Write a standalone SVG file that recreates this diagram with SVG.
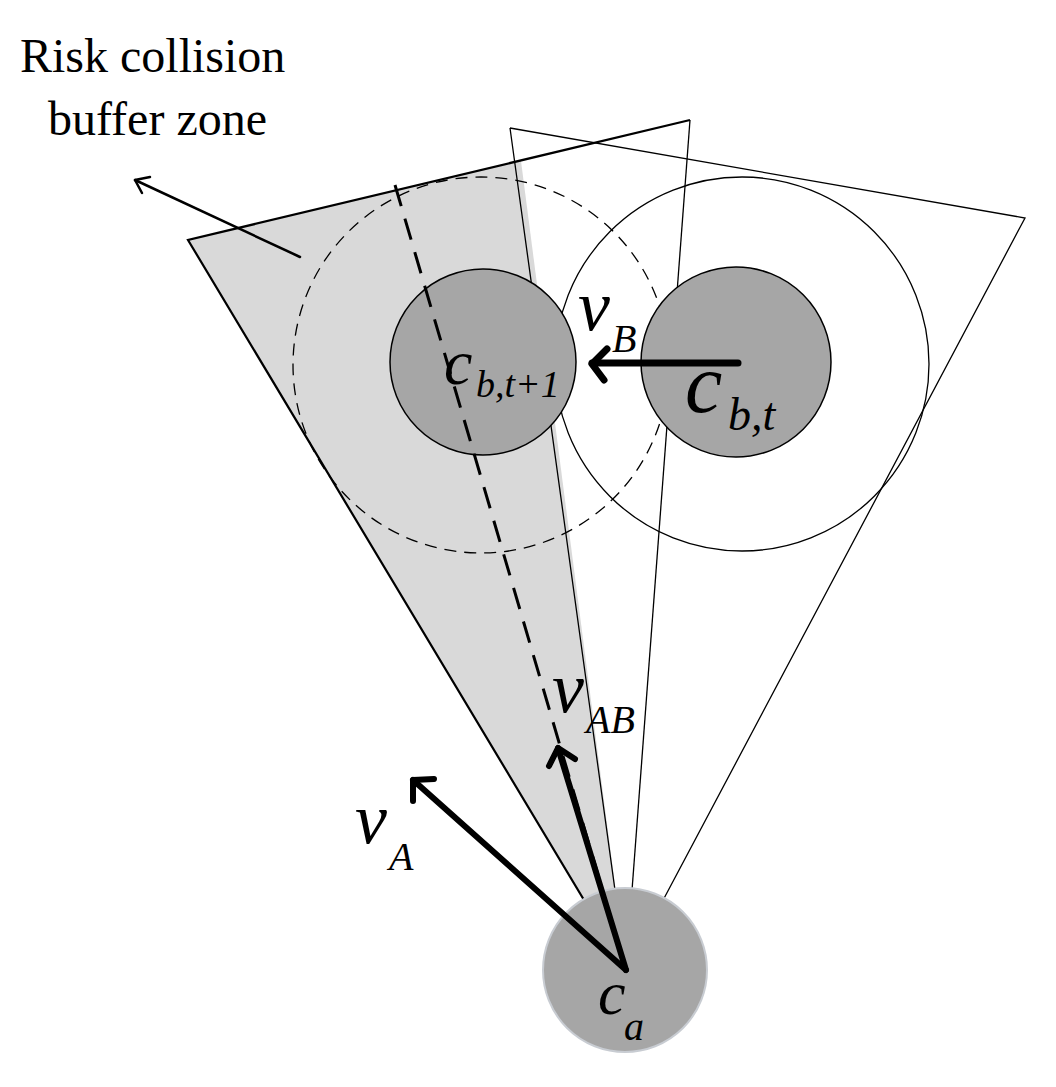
<svg xmlns="http://www.w3.org/2000/svg" width="1056" height="1087" viewBox="0 0 1056 1087">
<style>
.t{font-family:"Liberation Serif",serif;fill:#000}
.i{font-family:"Liberation Serif",serif;font-style:italic;fill:#000}
.ln{fill:none;stroke:#000;stroke-width:1.3}
.ar{fill:none;stroke:#000;stroke-linecap:round;stroke-linejoin:round}
</style>
<rect width="1056" height="1087" fill="#fff"/>
<g id="zones">
<polygon points="188,240 521,161 626,970" fill="#d9d9d9"/>
<polyline class="ln" points="510,128 1025,218 626,970 510,128"/>
<polyline class="ln" points="690,120 626,970"/>
<polyline fill="none" stroke="#000" stroke-width="2.2" points="626,970 188,240 690,120"/>
<circle cx="481" cy="365" r="188" fill="none" stroke="#000" stroke-width="1.3" stroke-dasharray="12,8"/>
<circle cx="742" cy="364" r="187" class="ln"/>
</g>
<g id="node-cbt1"><circle cx="483" cy="362" r="93" fill="#a6a6a6" stroke="#000" stroke-width="1.5"/></g>
<g id="node-cbt"><circle cx="736" cy="362" r="95" fill="#a6a6a6" stroke="#000" stroke-width="1.5"/></g>
<g id="node-ca"><circle cx="625" cy="970" r="82" fill="#a6a6a6" stroke="#c8ccd2" stroke-width="2"/></g>
<g id="connectors">
<line x1="395" y1="185" x2="626" y2="970" stroke="#000" stroke-width="3" stroke-dasharray="22,13"/>
<g class="ar" stroke-width="7"><path d="M738,363 H592"/><path d="M607,349 L592,364 L604,380"/></g>
<g class="ar" stroke-width="6"><path d="M626,970 L413,780"/><path d="M413,801 L413,780 L434,779"/></g>
<g class="ar" stroke-width="6"><path d="M626,970 L558,748"/><path d="M549,766 L558,748 L575,759"/></g>
<g class="ar" stroke-width="2.5"><path d="M300,257 L135,180"/><path d="M142,193 L135,180 L150,177"/></g>
</g>
<g id="labels">
<text class="t" x="20" y="72" font-size="48">Risk collision</text>
<text class="t" x="48" y="135" font-size="48">buffer zone</text>
<text class="i" x="578" y="330" font-size="72">v</text>
<text class="i" x="612" y="352" font-size="40">B</text>
<text class="i" x="444" y="384" font-size="64">c</text>
<text class="i" x="476" y="397" font-size="38">b,t+1</text>
<text class="i" x="685" y="412" font-size="84">c</text>
<text class="i" x="728" y="430" font-size="46">b,t</text>
<text class="i" x="552" y="712" font-size="72">v</text>
<text class="i" x="586" y="733" font-size="40">AB</text>
<text class="i" x="355" y="843" font-size="72">v</text>
<text class="i" x="389" y="870" font-size="40">A</text>
<text class="i" x="598" y="1014" font-size="62">c</text>
<text class="i" x="624" y="1040" font-size="40">a</text>
</g>
</svg>
